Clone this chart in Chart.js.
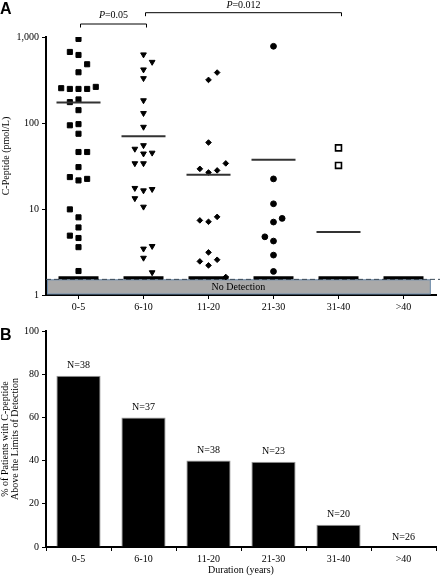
<!DOCTYPE html>
<html>
<head>
<meta charset="utf-8">
<script src="https://cdn.jsdelivr.net/npm/chart.js@4.4.1/dist/chart.umd.min.js"></script>
<style>
  body { margin: 0; background: #fff; }
  #wrap { position: relative; width: 440px; height: 576px; }
  canvas { position: absolute; left: 0; }
  #chartA { top: 0; }
  #chartB { top: 318px; }
</style>
</head>
<body>
<div id="wrap">
  <canvas id="chartA" width="440" height="318"></canvas>
  <canvas id="chartB" width="440" height="258"></canvas>
</div>
<script>
// durations (years)
const groups = ['0-5', '6-10', '11-20', '21-30', '31-40', '>40'];

// panel A: C-peptide per patient above detection (pmol/L), with swarm column
const vals05 = [950, 670, 618, 482, 389, 254, 249, 249, 249, 263, 188, 175, 141, 94, 97, 75, 46, 46, 30.7, 23.5, 21.5, 22.4, 9.9, 8.0, 6.1, 4.9, 4.6, 3.6, 1.9];
const cols05 = [0, -1, 0, 1, 0, -2, -1, 0, 1, 2, 0, -1, 0, -1, 0, 0, 0, 1, 0, -1, 0, 1, -1, 0, 0, -1, 0, 0, 0];
const vals610 = [625, 512, 418, 331, 183, 130, 90, 55, 50, 44, 45, 33.9, 33.9, 17.5, 16.4, 17.0, 13.3, 10.6, 3.45, 3.7, 2.7, 1.83];
const cols610 = [0, 1, 0, 0, 0, 0, 0, 0, -1, 0, 1, -1, 0, -1, 0, 1, -1, 0, 0, 1, 0, 1];
const vals1120 = [386, 317, 59.3, 33.9, 29.3, 26.6, 28.1, 7.37, 7.1, 8.1, 3.13, 2.46, 2.57, 2.21, 1.62];
const cols1120 = [1, 0, 0, 2, -1, 0, 1, -1, 0, 1, 0, -1, 1, 0, 2];
const vals2130 = [780, 22.4, 11.5, 7.05, 7.78, 4.75, 4.24, 2.91, 1.88];
const cols2130 = [0, 0, 0, 0, 1, -1, 0, 0, 0];
const vals3140 = [51.4, 32.1];
const cols3140 = [0, 0];
const vals40 = [];
const cols40 = [];

const groupMeans = [173, 70.3, 25.0, 37.3, 5.4, null];
const detectionLimit = 1.52;   // dashed line / top of grey band
const undetectedLevel = 1.59;  // where non-detected patients pile up
const yTicksA = [1, 10, 100, 1000];
const pTests = [
  { from: 0, to: 1, text: '=0.05' },
  { from: 1, to: 4, text: '=0.012' }
];

// panel B: % of patients above detection limit
const pctDetected = [79.3, 60, 40, 39.5, 10.3, 0];
const groupN = [38, 37, 38, 23, 20, 26];
const yTicksB = [0, 20, 40, 60, 80, 100];

const serif = '"Liberation Serif", "Times New Roman", serif';
Chart.defaults.font.family = serif;
Chart.defaults.font.size = 10;
Chart.defaults.color = '#000';

const allVals = [vals05, vals610, vals1120, vals2130, vals3140, vals40];
const allCols = [cols05, cols610, cols1120, cols2130, cols3140, cols40];
const markers = [
  { style: 'rect', r: 3.6, rot: 0, fill: '#000', bw: 1 },
  { style: 'triangle', r: 3.3, rot: 180, fill: '#000', bw: 1 },
  { style: 'rectRot', r: 2.8, rot: 0, fill: '#000', bw: 1 },
  { style: 'circle', r: 2.9, rot: 0, fill: '#000', bw: 1 },
  { style: 'rect', r: 4.2, rot: 0, fill: '#fff', bw: 1.6 },
  { style: 'circle', r: 2.9, rot: 0, fill: '#000', bw: 1 }
];
const colStep = 0.133;

const pointSets = allVals.map((vals, i) => ({
  type: 'scatter',
  data: vals.map((v, k) => ({ x: i + allCols[i][k] * colStep, y: v })),
  pointStyle: markers[i].style,
  pointRadius: markers[i].r,
  rotation: markers[i].rot,
  backgroundColor: markers[i].fill,
  borderColor: '#000',
  borderWidth: markers[i].bw
}));

const meanSet = {
  type: 'scatter',
  data: groupMeans.map((m, i) => ({ x: i, y: m })).filter(p => p.y !== null),
  pointStyle: 'line',
  pointRadius: 22,
  borderColor: '#333',
  borderWidth: 2
};

const undetectedSet = {
  type: 'scatter',
  data: groups.map((g, i) => ({ x: i, y: undetectedLevel })),
  pointStyle: 'line',
  pointRadius: 20,
  borderColor: '#000',
  borderWidth: 3
};

const axisGrid = { display: true, drawOnChartArea: false, drawTicks: true, tickLength: 4, color: '#000', lineWidth: 1 };
const axisBorder = { display: true, color: '#000', width: 2 };

const bandPlugin = {
  id: 'band',
  beforeDatasetsDraw(chart) {
    const { ctx, chartArea, scales: { x, y } } = chart;
    const top = y.getPixelForValue(detectionLimit);
    const right = x.getPixelForValue(5.42);
    ctx.save();
    ctx.fillStyle = '#a9a9a9';
    ctx.fillRect(chartArea.left + 1, top, right - chartArea.left - 1, chartArea.bottom - 1 - top);
    ctx.strokeStyle = '#6f8fb0';
    ctx.lineWidth = 1;
    ctx.strokeRect(chartArea.left + 1.5, top + 0.5, right - chartArea.left - 2, chartArea.bottom - 1.5 - top);
    ctx.fillStyle = '#000';
    ctx.font = '10px ' + serif;
    ctx.textAlign = 'center';
    ctx.textBaseline = 'middle';
    ctx.fillText('No Detection', (chartArea.left + right) / 2, (top + chartArea.bottom) / 2);
    ctx.strokeStyle = '#3c4a58';
    ctx.setLineDash([5, 3]);
    ctx.beginPath();
    ctx.moveTo(chartArea.left, top);
    ctx.lineTo(chart.width, top);
    ctx.stroke();
    ctx.restore();
  },
  afterDraw(chart) {
    const { ctx, scales: { x } } = chart;
    ctx.save();
    ctx.fillStyle = '#000';
    ctx.font = 'bold 16px "Liberation Sans", Arial, sans-serif';
    ctx.textBaseline = 'alphabetic';
    ctx.fillText('A', 0, 14);
    // y title, sitting a little above the axis centre as in the original
    ctx.font = '10px ' + serif;
    ctx.textAlign = 'center';
    ctx.textBaseline = 'middle';
    ctx.translate(6.5, 156);
    ctx.rotate(-Math.PI / 2);
    ctx.fillText('C-Peptide (pmol/L)', 0, 0);
    ctx.setTransform(1, 0, 0, 1, 0, 0);
    ctx.textAlign = 'left';
    ctx.textBaseline = 'alphabetic';
    const levels = [24, 12.7];
    const baselines = [17.5, 7.5];
    ctx.strokeStyle = '#000';
    ctx.lineWidth = 1;
    pTests.forEach((t, j) => {
      const x1 = x.getPixelForValue(t.from) + 2;
      const x2 = x.getPixelForValue(t.to) + 3;
      const yy = levels[j];
      ctx.beginPath();
      ctx.moveTo(x1, yy + 3.5);
      ctx.lineTo(x1, yy);
      ctx.lineTo(x2, yy);
      ctx.lineTo(x2, yy + 3.5);
      ctx.stroke();
      ctx.font = 'italic 10px ' + serif;
      const wP = ctx.measureText('P').width;
      ctx.font = '10px ' + serif;
      const wT = ctx.measureText(t.text).width;
      const sx = (x1 + x2) / 2 - (wP + wT) / 2;
      ctx.font = 'italic 10px ' + serif;
      ctx.fillText('P', sx, baselines[j]);
      ctx.font = '10px ' + serif;
      ctx.fillText(t.text, sx + wP, baselines[j]);
    });
    ctx.restore();
  }
};

new Chart(document.getElementById('chartA'), {
  type: 'scatter',
  data: { datasets: [undetectedSet, meanSet, ...pointSets] },
  options: {
    responsive: false,
    animation: false,
    events: [],
    layout: { autoPadding: false, padding: { top: 37, right: 4, left: 0, bottom: 0 } },
    plugins: { legend: { display: false }, tooltip: { enabled: false } },
    scales: {
      x: {
        type: 'linear',
        min: -0.5,
        max: 5.5,
        afterBuildTicks: s => { s.ticks = groups.map((g, i) => ({ value: i })); },
        afterFit: s => { s.height = 23; },
        ticks: { autoSkip: false, maxRotation: 0, padding: 2, callback: v => groups[v] },
        grid: axisGrid,
        border: axisBorder
      },
      y: {
        type: 'logarithmic',
        min: 1,
        max: 1000,
        afterBuildTicks: s => { s.ticks = yTicksA.map(v => ({ value: v })); },
        afterFit: s => { s.width = 46; },
        ticks: { padding: 3, callback: v => v.toLocaleString('en-US') },
        grid: axisGrid,
        border: axisBorder
      }
    }
  },
  plugins: [bandPlugin]
});

const nLabelPlugin = {
  id: 'nLabels',
  afterDatasetsDraw(chart) {
    const { ctx } = chart;
    const meta = chart.getDatasetMeta(0);
    ctx.save();
    ctx.fillStyle = '#000';
    ctx.font = '10px ' + serif;
    ctx.textAlign = 'center';
    ctx.textBaseline = 'middle';
    meta.data.forEach((bar, i) => {
      ctx.fillText('N=' + groupN[i], bar.x, bar.y - 10);
    });
    ctx.font = 'bold 16px "Liberation Sans", Arial, sans-serif';
    ctx.textAlign = 'left';
    ctx.textBaseline = 'alphabetic';
    ctx.fillText('B', 0, 22);
    ctx.restore();
  }
};

new Chart(document.getElementById('chartB'), {
  type: 'bar',
  data: {
    labels: groups,
    datasets: [{
      data: pctDetected,
      backgroundColor: '#000',
      borderColor: '#9a9a9a',
      borderWidth: 1,
      barPercentage: 0.68,
      categoryPercentage: 1
    }]
  },
  options: {
    responsive: false,
    animation: false,
    events: [],
    layout: { autoPadding: false, padding: { top: 13, right: 4, left: 0, bottom: 0 } },
    plugins: { legend: { display: false }, tooltip: { enabled: false } },
    scales: {
      x: {
        afterFit: s => { s.height = 29; },
        ticks: { autoSkip: false, maxRotation: 0, padding: 2 },
        grid: axisGrid,
        border: axisBorder,
        title: { display: true, text: 'Duration (years)', padding: 0, font: { size: 10, lineHeight: 1.1 } }
      },
      y: {
        min: 0,
        max: 100,
        afterBuildTicks: s => { s.ticks = yTicksB.map(v => ({ value: v })); },
        afterFit: s => { s.width = 46; },
        ticks: { padding: 3 },
        grid: axisGrid,
        border: axisBorder,
        title: {
          display: true,
          text: ['% of Patients with C-peptide', 'Above the Limits of Detection'],
          padding: 0,
          font: { size: 10, lineHeight: 1.0 }
        }
      }
    }
  },
  plugins: [nLabelPlugin]
});
</script>
</body>
</html>
